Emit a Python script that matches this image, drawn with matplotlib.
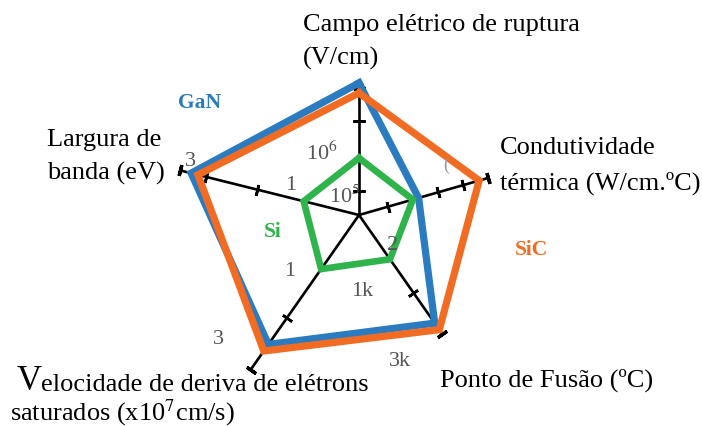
import numpy as np
import matplotlib
matplotlib.use("Agg")
import matplotlib.pyplot as plt

plt.rcParams['font.family'] = ['Liberation Serif', 'DejaVu Serif']
plt.rcParams['mathtext.fontset'] = 'stix'

# ---- data ----
axis_names = ["Campo elétrico de ruptura", "Condutividade térmica",
              "Ponto de Fusão", "Velocidade de deriva", "Largura de banda"]
axis_angles_deg = [90, 16, -55, -125, 166]
axis_length = [127, 134, 145, 189, 184]
axis_ticks = [[24, 94], [30, 82, 108], [95], [126], [105, 158]]

si_vals = [57, 56, 54, 66, 57]
gan_vals = [132, 62, 132, 158, 173]
sic_vals = [122, 125, 140, 166, 166]

W, H = 702, 427
fig = plt.figure(figsize=(W / 100, H / 100), dpi=100)
cx, cy = 359, 216
R = 200
ax = fig.add_axes([(cx - R) / W, (H - cy - R) / H, 2 * R / W, 2 * R / H], projection='polar')
ax.set_rlim(0, R)
ax.axis('off')

th = np.deg2rad(axis_angles_deg)

# axes lines with ticks
for t, L, ticks, a in zip(th, axis_length, axis_ticks, axis_angles_deg):
    ax.plot([t, t], [0, L], color='black', lw=1.9, zorder=2, solid_capstyle='butt')
    ax.plot([t] * len(ticks), ticks, ls='none', marker=(2, 2, a), ms=8,
            mec='black', mew=1.9, zorder=2)
    ax.plot([t], [L], ls='none', marker=(2, 2, a), ms=8, mec='black', mew=2.4, zorder=2)

def closed(v):
    return np.append(th, th[0]), np.append(v, v[0])

ax.plot(*closed(gan_vals), color='#2b7bc1', lw=5.2, zorder=3, solid_joinstyle='miter')
ax.plot(*closed(sic_vals), color='#f26b22', lw=5.2, zorder=4, solid_joinstyle='miter')
ax.plot(*closed(si_vals), color='#2fb34b', lw=4.8, zorder=5, solid_joinstyle='miter')

def T(x, y, s, **kw):
    fig.text(x / W, 1 - y / H, s, **kw)

lab = dict(fontsize=19, color='black', va='center', ha='left')
T(303, 25, "Campo elétrico de ruptura", **lab)
T(303, 58, "(V/cm)", **lab)
T(47, 140, "Largura de", **lab)
T(47, 173, "banda (eV)", **lab)
T(500, 148, "Condutividade", **lab)
T(500, 183, "térmica (W/cm.ºC)", **lab)
T(440, 380, "Ponto de Fusão (ºC)", **lab)
T(17, 382, "V", fontsize=25, color='black', va='center', ha='left')
T(41, 385, "elocidade de deriva de elétrons", **lab)
T(10, 413, "saturados (x10$^{7}$cm/s)", **lab)

T(200, 103, "GaN", fontsize=15.5, fontweight='bold', color='#2b7bc1', ha='center', va='center')
T(273, 232, "Si", fontsize=15.5, fontweight='bold', color='#2fb34b', ha='center', va='center')
T(531, 250, "SiC", fontsize=15.5, fontweight='bold', color='#f26b22', ha='center', va='center')

g = dict(fontsize=16, color='#555555', ha='center', va='center')
T(322, 153, "10$^{6}$", **g)
T(345, 197, "10$^{5}$", **g)
T(291, 185, "1", **g)
T(190, 162, "3", **g)
T(393, 246, "2", **g)
T(362, 292, "1k", **g)
T(400, 362, "3k", **g)
T(290, 272, "1", **g)
T(218, 340, "3", **g)
T(446, 165, "(", fontsize=13, color='#999999', ha='center', va='center')

fig.savefig("out.png", dpi=100)
